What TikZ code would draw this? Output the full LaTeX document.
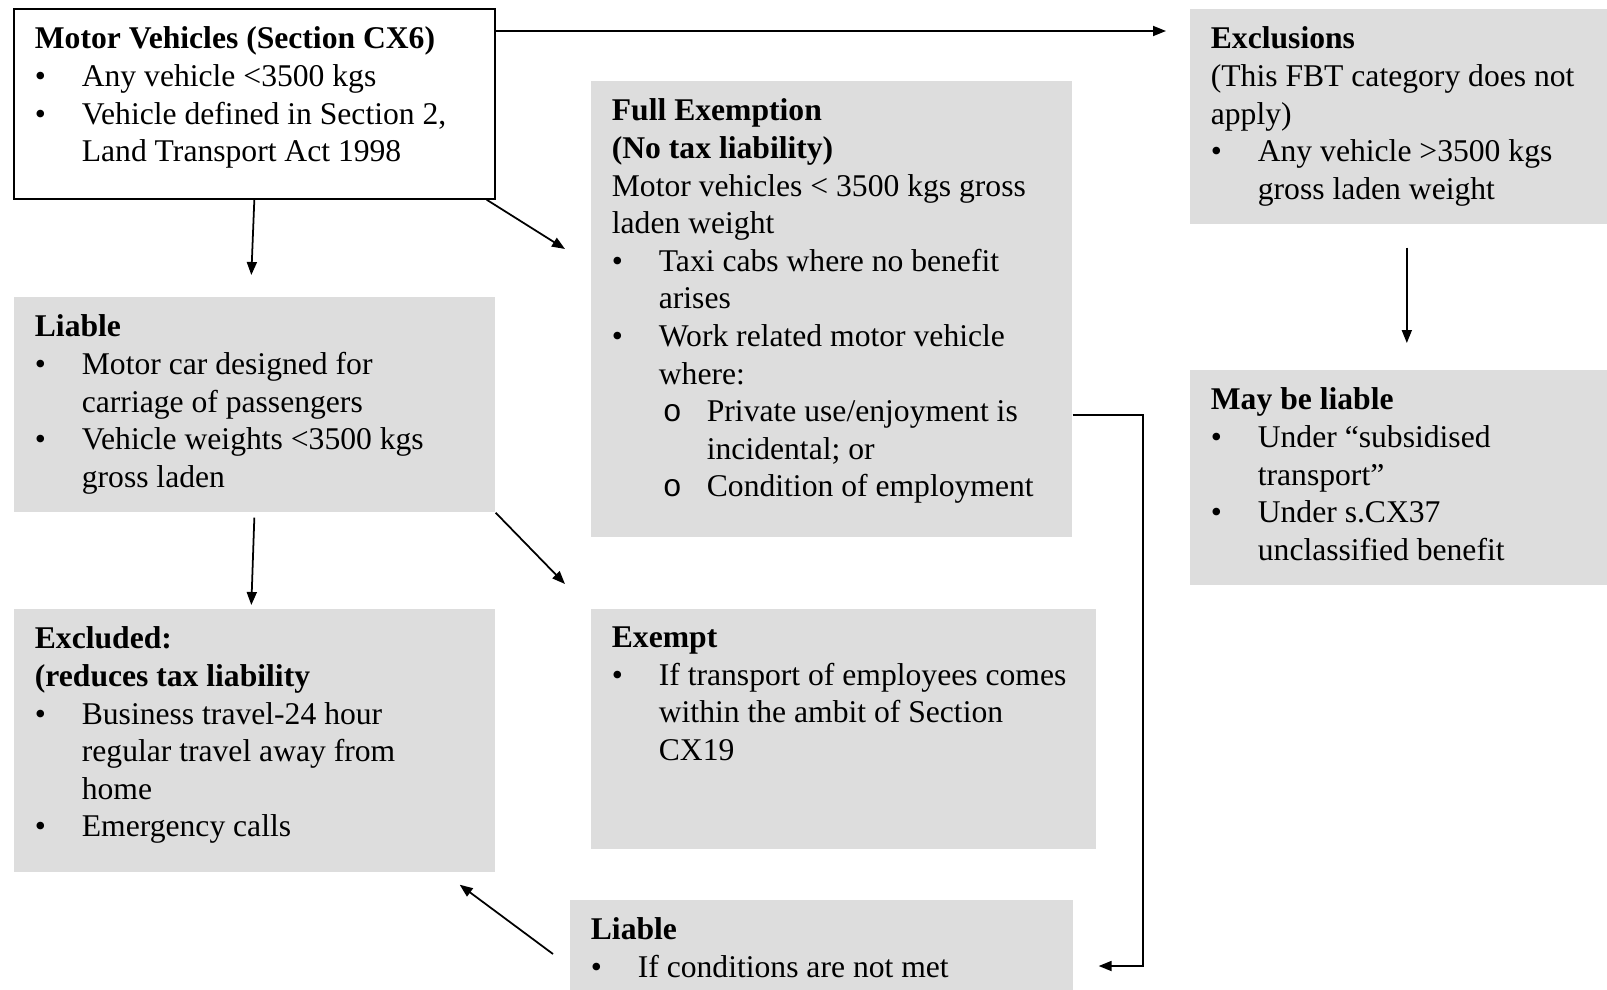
\documentclass[tikz,border=0pt]{standalone}
\usepackage{fontspec}
\setmainfont{Liberation Serif}
\newfontfamily\courfont{Liberation Mono}
\usepackage{tikz}
\usetikzlibrary{positioning,arrows.meta,calc}
\usepackage{xcolor}
\definecolor{boxgray}{RGB}{221,221,221}

\newcommand{\bul}{\par\noindent\hangindent=0.94cm\hangafter=0\llap{\makebox[0.94cm][l]{\textbullet}}}
\newcommand{\subbul}{\par\noindent\hangindent=1.9cm\hangafter=0\llap{\makebox[0.88cm][l]{\courfont o}}}
\newcommand{\boxtext}[3]{\parbox[t][#2][t]{#1}{\raggedright #3}}

\begin{document}
\begin{tikzpicture}[x=0.02cm,y=-0.02cm,>={Triangle[length=0.26cm,width=0.2cm]},line width=1pt,
  every node/.style={font=\fontsize{18}{21.4}\selectfont},
  gbox/.style={fill=boxgray,anchor=north west,inner xsep=0.42cm,inner ysep=0.36cm},
  wbox/.style={gbox,fill=white,draw=black}]
\useasboundingbox (0,0) rectangle (1607,990);

\node[wbox] (mv) at (13,8) {\boxtext{8.78cm}{3.08cm}{\textbf{Motor Vehicles (Section CX6)}
  \bul Any vehicle <3500 kgs
  \bul Vehicle defined in Section 2,\newline Land Transport Act 1998}};
\node[gbox] (excl) at (1189,8) {\boxtext{7.52cm}{3.58cm}{\textbf{Exclusions}\newline
  (This FBT category does not\newline apply)
  \bul Any vehicle >3500 kgs\newline gross laden weight}};
\node[gbox] (maybe) at (1189,369) {\boxtext{7.52cm}{3.58cm}{\textbf{May be liable}
  \bul Under “subsidised\newline transport”
  \bul Under s.CX37\newline unclassified benefit}};
\node[gbox] (full) at (590,80) {\boxtext{8.78cm}{8.40cm}{\textbf{Full Exemption}\newline
  \textbf{(No tax liability)}\newline
  Motor vehicles < 3500 kgs gross\newline laden weight
  \bul Taxi cabs where no benefit\newline arises
  \bul Work related motor vehicle\newline where:
  \subbul Private use/enjoyment is\newline incidental; or
  \subbul Condition of employment}};
\node[gbox] (liab) at (13,296) {\boxtext{8.78cm}{3.58cm}{\textbf{Liable}
  \bul Motor car designed for\newline carriage of passengers
  \bul Vehicle weights <3500 kgs\newline gross laden}};
\node[gbox] (exclud) at (13,608) {\boxtext{8.78cm}{4.54cm}{\textbf{Excluded:}\newline
  \textbf{(reduces tax liability}
  \bul Business travel-24 hour\newline regular travel away from\newline home
  \bul Emergency calls}};
\node[gbox] (exempt) at (590,608) {\boxtext{9.26cm}{4.08cm}{\textbf{Exempt}
  \bul If transport of employees comes\newline within the ambit of Section\newline CX19}};
\node[gbox] (liab2) at (569,899) {\boxtext{9.22cm}{1.10cm}{\textbf{Liable}
  \bul If conditions are not met}};

% connectors
\draw[->] ($(mv.north east)+(0,23)$) -- ($(excl.north west)+(-23,23)$);
\draw[->] ($(mv.south east)+(-9,0)$) -- ($(full.north west)+(-25,169)$);
\draw[->] (mv.south) -- ($(liab.north)+(-3,-21)$);
\draw[->] ($(liab.south)+(0,5)$) -- ($(exclud.north)+(-3,-3)$);
\draw[->] (liab.south east) -- ($(exempt.north west)+(-25,-24)$);
\draw[->] ($(full.north east)+(0,335)$) -- ++(70,0) |- ($(liab2.north east)+(25,67)$);
\draw[->] ($(liab2.north west)+(-16,55)$) -- ($(exclud.south east)+(-36,12)$);
\draw[->] ($(excl.south)+(8,23)$) -- ($(maybe.north)+(8,-26)$);
\end{tikzpicture}
\end{document}
